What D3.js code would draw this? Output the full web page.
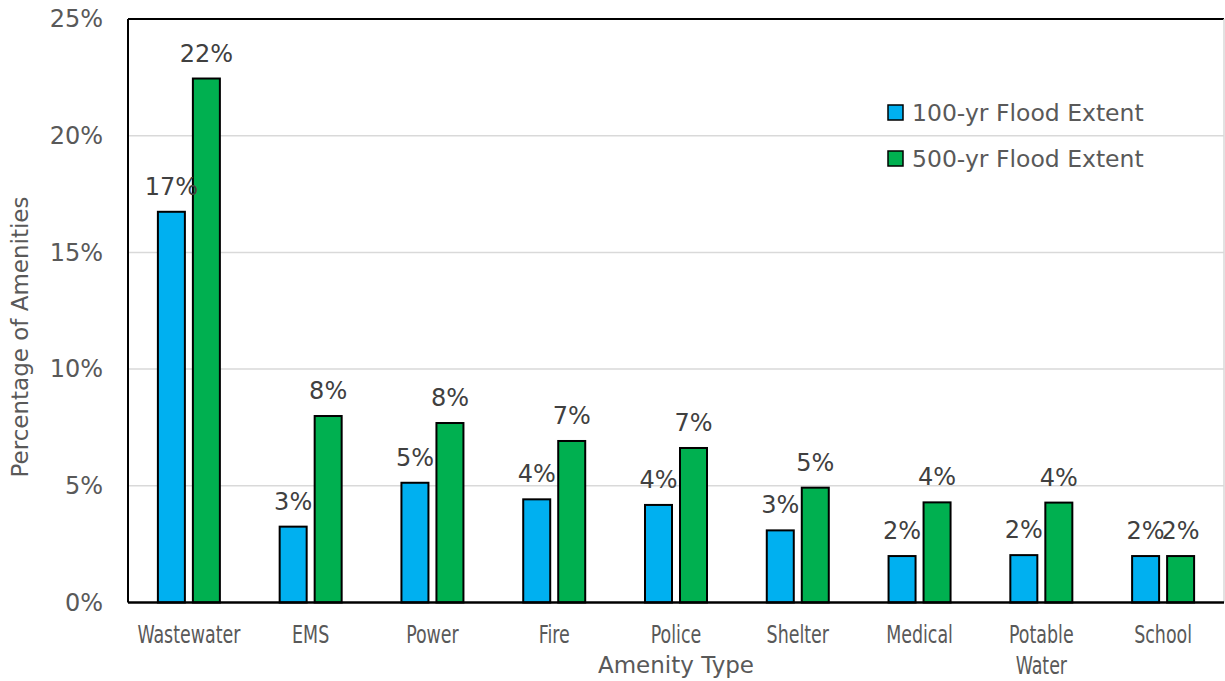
<!DOCTYPE html>
<html>
<head>
<meta charset="utf-8">
<script src="https://cdn.jsdelivr.net/npm/d3@7"></script>
<style>
  body { margin: 0; background: #fff; }
  text { font-family: "DejaVu Sans", sans-serif; }
  .tick text.xlab { font-family: "Liberation Sans Narrow", "DejaVu Sans Condensed", "Liberation Sans", sans-serif; }
</style>
</head>
<body>
<div id="chart"></div>
<script>
// chart data
const categories = ["Wastewater", "EMS", "Power", "Fire", "Police", "Shelter", "Medical", "Potable Water", "School"];
const seriesNames = ["100-yr Flood Extent", "500-yr Flood Extent"];
const flood100 = [16.74, 3.25, 5.13, 4.42, 4.18, 3.09, 1.99, 2.03, 1.99];
const flood500 = [22.45, 7.99, 7.69, 6.92, 6.62, 4.92, 4.29, 4.28, 1.99];
const yTicks = [0, 5, 10, 15, 20, 25];
const colors = ["#00b0f0", "#00b050"];

const svgWidth = 1225;
const svgHeight = 681;

const margin = { top: 19, right: 1, bottom: 78.5, left: 128 };
const chartWidth = svgWidth - margin.left - margin.right;
const chartHeight = svgHeight - margin.top - margin.bottom;

const svg = d3.select("#chart")
  .append("svg")
  .attr("width", svgWidth)
  .attr("height", svgHeight);

const chartGroup = svg.append("g")
  .attr("transform", `translate(${margin.left}, ${margin.top})`);

// rows for bars
const rows = categories.map((c, i) => ({ cat: c, values: [flood100[i], flood500[i]] }));

// scales
const x0 = d3.scaleBand().domain(categories).range([0, chartWidth]);
const bw = x0.bandwidth();
const x1 = d3.scaleBand().domain(seriesNames).range([bw / 2 - 35, bw / 2 + 35]);
const yScale = d3.scaleLinear().domain([0, 25]).range([chartHeight, 0]);

// gridlines
chartGroup.selectAll(".grid")
  .data(yTicks.filter(t => t > 0 && t < 25))
  .enter()
  .append("line")
  .attr("x1", 0)
  .attr("x2", chartWidth)
  .attr("y1", d => yScale(d))
  .attr("y2", d => yScale(d))
  .attr("stroke", "#d9d9d9")
  .attr("stroke-width", 1.5);

// frame: black top + left, light right
chartGroup.append("line")
  .attr("x1", 0).attr("x2", chartWidth)
  .attr("y1", yScale(25)).attr("y2", yScale(25))
  .attr("stroke", "#000").attr("stroke-width", 2);
chartGroup.append("line")
  .attr("x1", chartWidth).attr("x2", chartWidth)
  .attr("y1", 0).attr("y2", chartHeight)
  .attr("stroke", "#d9d9d9").attr("stroke-width", 1.5);

// y axis
const yAxis = d3.axisLeft(yScale).tickValues(yTicks).tickSize(0).tickPadding(25).tickFormat(d => d + "%");
const yG = chartGroup.append("g").call(yAxis);
yG.select(".domain").remove();
yG.selectAll("text")
  .attr("fill", "#595959")
  .style("font-size", "24px")
  .style("font-family", "'DejaVu Sans', sans-serif");

// x axis
const xAxis = d3.axisBottom(x0).tickSize(0).tickPadding(23);
const xG = chartGroup.append("g")
  .attr("transform", `translate(0, ${chartHeight})`)
  .call(xAxis);
xG.select(".domain").remove();
const xLabels = xG.selectAll(".tick text")
  .attr("class", "xlab")
  .attr("fill", "#595959")
  .style("font-size", "25px")
  .each(function (d) {
    const words = d.split(" ");
    if (words.length > 1) {
      const t = d3.select(this);
      t.text(null);
      words.forEach((w, i) => {
        t.append("tspan").attr("x", 0).attr("dy", i === 0 ? "0.71em" : "31px").text(w);
      });
    }
  });

// squeeze the tick labels to a condensed look ("Wastewater" ~103px wide)
const wwWidth = xLabels.filter(d => d === "Wastewater").node().getComputedTextLength();
const squeeze = 103 / wwWidth;
xLabels.attr("transform", `scale(${squeeze}, 1)`);

// bars
const groups = chartGroup.selectAll(".cat")
  .data(rows)
  .enter()
  .append("g")
  .attr("transform", d => `translate(${x0(d.cat)}, 0)`);

groups.selectAll("rect")
  .data(d => d.values.map((v, i) => ({ s: seriesNames[i], v: v, i: i })))
  .enter()
  .append("rect")
  .attr("x", d => x1(d.s) + 4)
  .attr("width", x1.bandwidth() - 8)
  .attr("y", d => yScale(d.v))
  .attr("height", d => chartHeight - yScale(d.v))
  .attr("fill", d => colors[d.i])
  .attr("stroke", "#000")
  .attr("stroke-width", 2);

// data labels
groups.selectAll(".lbl")
  .data(d => d.values.map((v, i) => ({ s: seriesNames[i], v: v })))
  .enter()
  .append("text")
  .attr("x", d => x1(d.s) + x1.bandwidth() / 2)
  .attr("y", d => yScale(d.v) - 17)
  .attr("text-anchor", "middle")
  .attr("fill", "#404040")
  .style("font-size", "24px")
  .text(d => Math.round(d.v) + "%");

// left + bottom axis lines
chartGroup.append("line")
  .attr("x1", 0).attr("x2", 0)
  .attr("y1", 0).attr("y2", chartHeight)
  .attr("stroke", "#000").attr("stroke-width", 2);
chartGroup.append("line")
  .attr("x1", 0).attr("x2", chartWidth)
  .attr("y1", chartHeight).attr("y2", chartHeight)
  .attr("stroke", "#000").attr("stroke-width", 2.5);

// axis titles
svg.append("text")
  .text("Amenity Type")
  .attr("x", margin.left + chartWidth / 2)
  .attr("y", 673)
  .attr("text-anchor", "middle")
  .attr("fill", "#595959")
  .style("font-size", "23px");

svg.append("text")
  .text("Percentage of Amenities")
  .attr("text-anchor", "middle")
  .attr("fill", "#595959")
  .style("font-size", "23px")
  .attr("transform", "translate(28, 337) rotate(-90)");

// legend
const legend = svg.selectAll(".legend")
  .data(seriesNames)
  .enter()
  .append("g")
  .attr("transform", (d, i) => `translate(888, ${105 + i * 46})`);

legend.append("rect")
  .attr("width", 15)
  .attr("height", 15)
  .attr("fill", (d, i) => colors[i])
  .attr("stroke", "#000")
  .attr("stroke-width", 1.5);

legend.append("text")
  .attr("x", 24)
  .attr("y", 16)
  .attr("fill", "#595959")
  .style("font-size", "23.5px")
  .text(d => d);
</script>
</body>
</html>
